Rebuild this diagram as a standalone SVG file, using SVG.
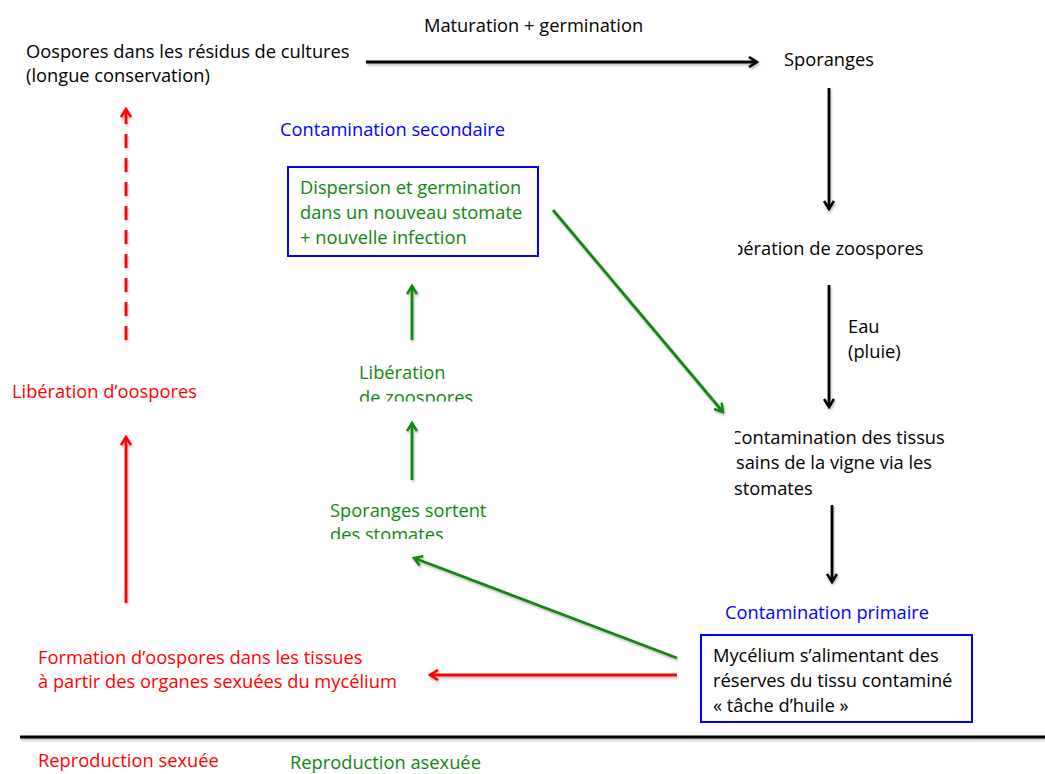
<svg xmlns="http://www.w3.org/2000/svg" width="1045" height="774" viewBox="0 0 1045 774">
<style>
text{font-family:"Open Sans","Liberation Sans",sans-serif;font-size:18.3px}
.k{fill:#000}.g{fill:#128512}.r{fill:#ff0000}.b{fill:#0000ff}
.box{fill:none;stroke:#0000ff;stroke-width:2}
.ak{stroke:#000;stroke-width:2.8;fill:none}
.ag{stroke:#128512;stroke-width:2.8;fill:none}
.ar{stroke:#ff0000;stroke-width:2.8;fill:none}
</style>
<defs>
<filter id="sh" x="-20%" y="-20%" width="140%" height="140%">
<feDropShadow dx="1" dy="2" stdDeviation="1.2" flood-color="#000" flood-opacity="0.25"/>
</filter>
<marker id="mk" viewBox="0 0 12 12" refX="10" refY="6" markerWidth="12" markerHeight="12" markerUnits="userSpaceOnUse" orient="auto"><path d="M2,1 L10,6 L2,11" fill="none" stroke="#000" stroke-width="2.6"/></marker>
<marker id="mg" viewBox="0 0 12 12" refX="10" refY="6" markerWidth="12" markerHeight="12" markerUnits="userSpaceOnUse" orient="auto"><path d="M2,1 L10,6 L2,11" fill="none" stroke="#128512" stroke-width="2.6"/></marker>
<marker id="mr" viewBox="0 0 12 12" refX="10" refY="6" markerWidth="12" markerHeight="12" markerUnits="userSpaceOnUse" orient="auto"><path d="M2,1 L10,6 L2,11" fill="none" stroke="#ff0000" stroke-width="2.6"/></marker>
<clipPath id="c1"><rect x="738" y="230" width="300" height="40"/></clipPath>
<clipPath id="c2"><rect x="735" y="425" width="300" height="30"/></clipPath>
<clipPath id="c3"><rect x="340" y="385" width="200" height="16.5"/></clipPath>
<clipPath id="c4"><rect x="320" y="522" width="200" height="17"/></clipPath>
</defs>

<g id="connectors" filter="url(#sh)">
<line class="ak" x1="366" y1="62" x2="757" y2="62" marker-end="url(#mk)"/>
<line class="ak" x1="829" y1="88" x2="829" y2="209" marker-end="url(#mk)"/>
<line class="ak" x1="829" y1="285" x2="829" y2="407" marker-end="url(#mk)"/>
<line class="ak" x1="832" y1="505" x2="832" y2="582" marker-end="url(#mk)"/>
<line class="ag" x1="677" y1="658" x2="414" y2="558" marker-end="url(#mg)"/>
<line class="ar" x1="677" y1="675" x2="430" y2="675" marker-end="url(#mr)"/>
<line class="ag" x1="412" y1="480" x2="412" y2="423" marker-end="url(#mg)"/>
<line class="ag" x1="412" y1="340" x2="412" y2="286" marker-end="url(#mg)"/>
<line class="ag" x1="553" y1="210" x2="723" y2="412" marker-end="url(#mg)"/>
<line class="ar" x1="126" y1="603" x2="126" y2="437" marker-end="url(#mr)"/>
<line class="ar" x1="126" y1="340" x2="126" y2="109" stroke-dasharray="14,10" marker-end="url(#mr)"/>
<line x1="20" y1="737" x2="1045" y2="737" stroke="#000" stroke-width="3"/>
</g>

<g id="label-maturation"><text class="k" x="424" y="32">Maturation + germination</text></g>
<g id="node-oospores"><text class="k" x="26" y="58">Oospores dans les résidus de cultures</text><text class="k" x="26" y="82">(longue conservation)</text></g>
<g id="node-sporanges"><text class="k" x="784" y="66">Sporanges</text></g>
<g id="node-liberation-zoo"><text class="k" x="718" y="255" clip-path="url(#c1)">Libération de zoospores</text></g>
<g id="label-eau"><text class="k" x="848" y="333">Eau</text><text class="k" x="848" y="358">(pluie)</text></g>
<g id="node-contamination-tissus"><text class="k" x="730" y="444" clip-path="url(#c2)">Contamination des tissus</text><text class="k" x="736" y="469"> sains de la vigne via les</text><text class="k" x="734" y="495">stomates</text></g>
<g id="node-primaire"><text class="b" x="725" y="619">Contamination primaire</text>
<rect class="box" x="701" y="635" width="271" height="87"/>
<text class="k" x="713" y="662">Mycélium s’alimentant des</text><text class="k" x="713" y="687">réserves du tissu contaminé</text><text class="k" x="713" y="712">« tâche d’huile »</text></g>
<g id="node-formation"><text class="r" x="38" y="664">Formation d’oospores dans les tissues</text><text class="r" x="38" y="688">à partir des organes sexuées du mycélium</text></g>
<g id="node-sporanges-sortent"><text class="g" x="330" y="517">Sporanges sortent</text><text class="g" x="330" y="541" clip-path="url(#c4)">des stomates</text></g>
<g id="node-liberation-zoo2"><text class="g" x="359" y="379">Libération</text><text class="g" x="359" y="404" clip-path="url(#c3)">de zoospores</text></g>
<g id="node-secondaire"><text class="b" x="280" y="136">Contamination secondaire</text>
<rect class="box" x="288" y="167" width="250" height="89"/>
<text class="g" x="300" y="194">Dispersion et germination</text><text class="g" x="300" y="219">dans un nouveau stomate</text><text class="g" x="300" y="244">+ nouvelle infection</text></g>
<g id="node-liberation-oo"><text class="r" x="12" y="398">Libération d’oospores</text></g>
<g id="legend"><text class="r" x="38" y="767">Reproduction sexuée</text><text class="g" x="290" y="769">Reproduction asexuée</text></g>
</svg>
